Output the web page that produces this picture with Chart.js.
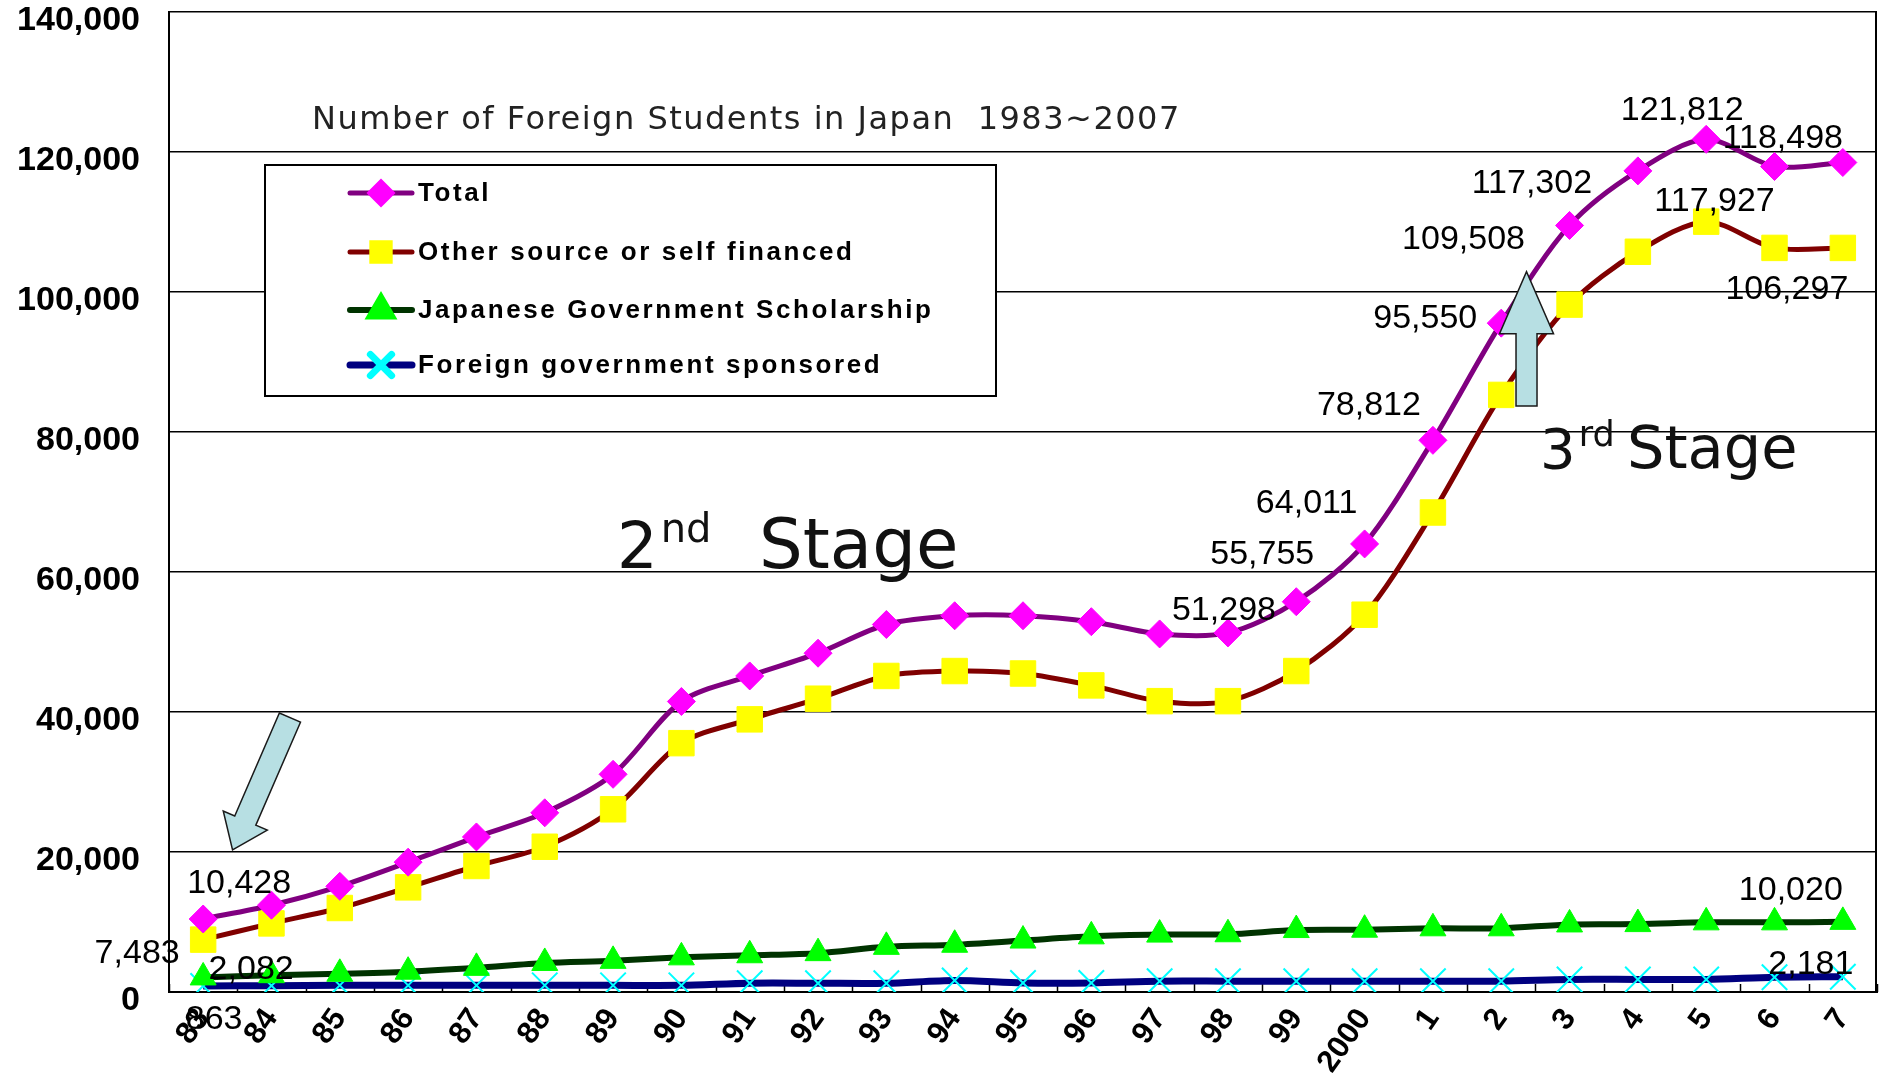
<!DOCTYPE html>
<html>
<head>
<meta charset="utf-8">
<title>Number of Foreign Students in Japan 1983~2007</title>
<script src="https://cdn.jsdelivr.net/npm/chart.js@4.4.1/dist/chart.umd.min.js"></script>
<style>
  html, body { margin: 0; padding: 0; background: #fff; }
  #wrap { width: 1883px; height: 1083px; }
</style>
</head>
<body>
<div id="wrap"><canvas id="chart" width="1883" height="1083"></canvas></div>
<script>
// year labels as printed on the axis
const years = ["83", "84", "85", "86", "87", "88", "89", "90", "91", "92", "93", "94", "95",
  "96", "97", "98", "99", "2000", "1", "2", "3", "4", "5", "6", "7"];

const totalStudents = [10428, 12400, 15100, 18550, 22150, 25600, 31100, 41500, 45150, 48400,
  52500, 53750, 53750, 52900, 51150, 51298, 55755, 64011, 78812, 95550,
  109508, 117302, 121812, 117927, 118498];

const selfFinanced = [7483, 9800, 12000, 14950, 18000, 20750, 26100, 35550, 38950, 41900,
  45150, 45850, 45500, 43800, 41550, 41550, 45850, 53900, 68500, 85300,
  98200, 105750, 110050, 106300, 106297];

const japaneseGov = [2082, 2400, 2600, 2900, 3450, 4150, 4450, 4950, 5250, 5550,
  6450, 6750, 7350, 7950, 8200, 8250, 8850, 8900, 9100, 9100,
  9650, 9700, 9950, 9950, 10020];

const foreignGov = [863, 900, 950, 950, 950, 950, 950, 950, 1250, 1250,
  1250, 1650, 1300, 1300, 1550, 1550, 1550, 1550, 1550, 1550,
  1800, 1800, 1800, 2100, 2181];

const seriesNames = ["Total", "Other source or self financed",
  "Japanese Government Scholarship", "Foreign government sponsored"];

const yTicks = [0, 20000, 40000, 60000, 80000, 100000, 120000, 140000];

// which point values are printed, and where (pixel offset from the point)
const valueLabels = [
  { ds: 0, i: 0, dx: 36, dy: -35 },
  { ds: 1, i: 0, dx: -66, dy: 14 },
  { ds: 2, i: 0, dx: 48, dy: -8 },
  { ds: 3, i: 0, dx: 11, dy: 34 },
  { ds: 2, i: 24, dx: -52, dy: -31 },
  { ds: 3, i: 24, dx: -32, dy: -12 },
  { ds: 0, i: 15, dx: -4, dy: -22 },
  { ds: 0, i: 16, dx: -34, dy: -47 },
  { ds: 0, i: 17, dx: -58, dy: -40 },
  { ds: 0, i: 18, dx: -64, dy: -35 },
  { ds: 0, i: 19, dx: -76, dy: -5 },
  { ds: 0, i: 20, dx: -106, dy: 14 },
  { ds: 0, i: 21, dx: -106, dy: 13 },
  { ds: 0, i: 22, dx: -24, dy: -29 },
  { ds: 0, i: 23, dx: -60, dy: 35 },
  { ds: 0, i: 24, dx: -60, dy: -24 },
  { ds: 1, i: 24, dx: -56, dy: 42 }
];

const fmt = v => Number(v).toLocaleString("en-US");

function blockArrow(ctx, x1, y1, x2, y2, shaftW, headW, headL) {
  const ang = Math.atan2(y2 - y1, x2 - x1);
  const len = Math.hypot(x2 - x1, y2 - y1);
  ctx.save();
  ctx.translate(x1, y1);
  ctx.rotate(ang);
  ctx.beginPath();
  ctx.moveTo(0, -shaftW / 2);
  ctx.lineTo(len - headL, -shaftW / 2);
  ctx.lineTo(len - headL, -headW / 2);
  ctx.lineTo(len, 0);
  ctx.lineTo(len - headL, headW / 2);
  ctx.lineTo(len - headL, shaftW / 2);
  ctx.lineTo(0, shaftW / 2);
  ctx.closePath();
  ctx.fillStyle = "#b7dfe3";
  ctx.fill();
  ctx.lineWidth = 1.5;
  ctx.strokeStyle = "#1a1a1a";
  ctx.stroke();
  ctx.restore();
}

function stageText(ctx, x, y, num, sup, stageX, size, stageSize) {
  ctx.save();
  ctx.fillStyle = "#111";
  ctx.textBaseline = "alphabetic";
  ctx.textAlign = "left";
  ctx.font = size + "px 'DejaVu Sans'";
  ctx.fillText(num, x, y);
  const w = ctx.measureText(num).width;
  ctx.font = Math.round(size * 0.62) + "px 'DejaVu Sans'";
  ctx.fillText(sup, x + w + 3, y - size * 0.4);
  ctx.font = stageSize + "px 'DejaVu Sans'";
  ctx.fillText("Stage", stageX, y);
  ctx.restore();
}

const overlay = {
  id: "overlay",
  beforeDatasetsDraw(chart) {
    const { ctx, chartArea: a, scales: { x } } = chart;
    ctx.save();
    ctx.strokeStyle = "#000";
    ctx.lineWidth = 1.5;
    for (let i = 0; i <= years.length; i++) {
      const px = Math.round(x.getPixelForValue(i - 0.5)) + 0.5;
      ctx.beginPath();
      ctx.moveTo(px, a.bottom);
      ctx.lineTo(px, a.bottom - 8);
      ctx.stroke();
    }
    ctx.lineWidth = 2;
    ctx.beginPath();
    ctx.moveTo(a.right - 1, a.top);
    ctx.lineTo(a.right - 1, a.bottom);
    ctx.stroke();
    ctx.restore();
  },
  afterDraw(chart) {
    const { ctx, scales: { x, y } } = chart;

    // title line
    ctx.save();
    ctx.fillStyle = "#222";
    ctx.font = "32px 'DejaVu Sans'";
    ctx.letterSpacing = "1.5px";
    ctx.textBaseline = "middle";
    ctx.fillText("Number of Foreign Students in Japan  1983~2007", 312, 121);
    ctx.restore();

    // legend box
    ctx.save();
    ctx.fillStyle = "#fff";
    ctx.fillRect(265, 165, 731, 231);
    ctx.strokeStyle = "#000";
    ctx.lineWidth = 2;
    ctx.strokeRect(265, 165, 731, 231);
    const rows = [193, 252, 310, 365];
    chart.data.datasets.forEach((ds, k) => {
      const ry = rows[k];
      ctx.strokeStyle = ds.borderColor;
      ctx.lineWidth = ds.borderWidth;
      ctx.lineCap = "round";
      ctx.beginPath();
      ctx.moveTo(350, ry);
      ctx.lineTo(412, ry);
      ctx.stroke();
      ctx.fillStyle = ds.pointBackgroundColor;
      ctx.strokeStyle = ds.pointBorderColor;
      Chart.helpers.drawPoint(ctx, {
        pointStyle: ds.pointStyle,
        radius: ds.legendRadius,
        rotation: 0,
        borderWidth: ds.pointBorderWidth
      }, 381, ry);
      ctx.fillStyle = "#000";
      ctx.font = "bold 26px 'Liberation Sans'";
      ctx.letterSpacing = "2.6px";
      ctx.textBaseline = "middle";
      ctx.fillText(ds.label, 418, ry + 1);
      ctx.letterSpacing = "0px";
    });
    ctx.restore();

    // arrows
    blockArrow(ctx, x.getPixelForValue(1.27), y.getPixelForValue(39200),
      x.getPixelForValue(0.43), y.getPixelForValue(20300), 23, 48, 32);
    blockArrow(ctx, x.getPixelForValue(19.37), y.getPixelForValue(83700),
      x.getPixelForValue(19.37), y.getPixelForValue(102900), 21, 54, 62);

    stageText(ctx, 617, 568, "2", "nd", 759, 64, 69);
    stageText(ctx, 1540, 468, "3", "rd", 1627, 56, 59);

    // printed values
    ctx.save();
    ctx.fillStyle = "#000";
    ctx.font = "34px 'Liberation Sans'";
    ctx.textAlign = "center";
    ctx.textBaseline = "middle";
    valueLabels.forEach(l => {
      const pt = chart.getDatasetMeta(l.ds).data[l.i];
      const v = chart.data.datasets[l.ds].data[l.i];
      ctx.fillText(fmt(v), pt.x + l.dx, pt.y + l.dy);
    });
    ctx.restore();
  }
};

new Chart(document.getElementById("chart"), {
  type: "line",
  data: {
    labels: years,
    datasets: [
      {
        label: seriesNames[0], data: totalStudents,
        borderColor: "#800080", borderWidth: 5,
        pointStyle: "rectRot", pointRadius: 14, legendRadius: 11,
        pointBackgroundColor: "#ff00ff", pointBorderColor: "#ff00ff", pointBorderWidth: 1
      },
      {
        label: seriesNames[1], data: selfFinanced,
        borderColor: "#800000", borderWidth: 5,
        pointStyle: "rect", pointRadius: 18, legendRadius: 13,
        pointBackgroundColor: "#ffff00", pointBorderColor: "#ffff00", pointBorderWidth: 1
      },
      {
        label: seriesNames[2], data: japaneseGov,
        borderColor: "#003300", borderWidth: 6,
        pointStyle: "triangle", pointRadius: 15, legendRadius: 13,
        pointBackgroundColor: "#00ff00", pointBorderColor: "#00ff00", pointBorderWidth: 1
      },
      {
        label: seriesNames[3], data: foreignGov,
        borderColor: "#000080", borderWidth: 7,
        pointStyle: "crossRot", pointRadius: 18, legendRadius: 15,
        pointBackgroundColor: "#00ffff", pointBorderColor: "#00ffff", pointBorderWidth: 2
      }
    ]
  },
  options: {
    responsive: false,
    animation: false,
    devicePixelRatio: 1,
    layout: { autoPadding: false, padding: { top: 12, right: 6, left: 0, bottom: 0 } },
    elements: { line: { tension: 0.3 }, point: { hoverRadius: 14 } },
    plugins: { legend: { display: false }, tooltip: { enabled: false } },
    scales: {
      x: {
        offset: true,
        grid: { display: true, drawOnChartArea: false, drawTicks: false },
        border: { display: true, color: "#000", width: 2 },
        ticks: {
          color: "#000",
          font: { family: "'Liberation Sans'", weight: "bold", size: 31 },
          minRotation: 55, maxRotation: 55, padding: 10, autoSkip: false
        },
        afterFit: s => {
          s.height = 91;
          s.paddingLeft = 0; s.paddingRight = 0; s.paddingTop = 0; s.paddingBottom = 0;
        }
      },
      y: {
        min: 0, max: 140000,
        afterBuildTicks: s => { s.ticks = yTicks.map(v => ({ value: v })); },
        grid: { color: "#000", lineWidth: 1.5, drawTicks: false },
        border: { display: true, color: "#000", width: 2 },
        ticks: {
          color: "#000", padding: 29, labelOffset: 9,
          font: { family: "'Liberation Sans'", weight: "bold", size: 34 },
          callback: v => fmt(v)
        },
        afterFit: s => {
          s.width = 169;
          s.paddingLeft = 0; s.paddingRight = 0; s.paddingTop = 0; s.paddingBottom = 0;
        }
      }
    }
  },
  plugins: [overlay]
});
</script>
</body>
</html>
